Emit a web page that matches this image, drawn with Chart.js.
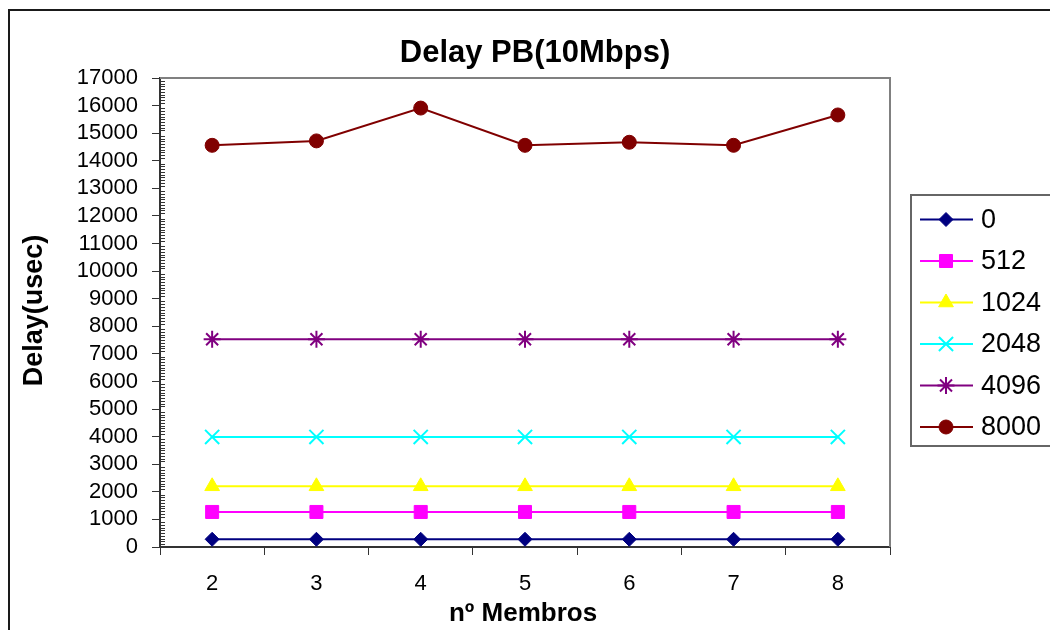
<!DOCTYPE html>
<html>
<head>
<meta charset="utf-8">
<title>Delay PB(10Mbps)</title>
<script src="https://cdn.jsdelivr.net/npm/chart.js@4/dist/chart.umd.min.js"></script>
<style>
  html, body { margin: 0; padding: 0; background: #fff; }
  #wrap { width: 1050px; height: 630px; }
</style>
</head>
<body>
<div id="wrap"><canvas id="c" width="1050" height="630"></canvas></div>
<script>
// Group sizes on the x axis
const members = ['2', '3', '4', '5', '6', '7', '8'];

// Packet sizes (bytes), one line each
const seriesNames = ['0', '512', '1024', '2048', '4096', '8000'];

// Measured delay in microseconds
const delay0    = [280, 280, 280, 280, 280, 280, 280];
const delay512  = [1270, 1270, 1270, 1270, 1270, 1270, 1270];
const delay1024 = [2200, 2200, 2200, 2200, 2200, 2200, 2200];
const delay2048 = [3990, 3990, 3990, 3990, 3990, 3990, 3990];
const delay4096 = [7530, 7530, 7530, 7530, 7530, 7530, 7530];
const delay8000 = [14560, 14720, 15910, 14560, 14670, 14560, 15660];

const yMin = 0, yMax = 17000, yStep = 1000, yMinorStep = 100;

const chartTitle = 'Delay PB(10Mbps)';
const xTitle = 'nº Membros';
const yTitle = 'Delay(usec)';

const FONT = '"Liberation Sans", Arial, Helvetica, sans-serif';

const styles = [
  { color: '#000080', pointStyle: 'rectRot',  radius: 7 },
  { color: '#FF00FF', pointStyle: 'rect',     radius: 9.2 },
  { color: '#FFFF00', pointStyle: 'triangle', radius: 8.5 },
  { color: '#00FFFF', pointStyle: 'crossRot', radius: 10 },
  { color: '#800080', pointStyle: 'star',     radius: 8.5 },
  { color: '#800000', pointStyle: 'circle',   radius: 7 }
];
const values = [delay0, delay512, delay1024, delay2048, delay4096, delay8000];

const datasets = seriesNames.map((name, i) => ({
  label: name,
  data: values[i],
  borderColor: styles[i].color,
  backgroundColor: styles[i].color,
  pointBackgroundColor: styles[i].color,
  pointBorderColor: styles[i].color,
  pointStyle: styles[i].pointStyle,
  pointRadius: styles[i].radius,
  pointHoverRadius: styles[i].radius,
  pointBorderWidth: (styles[i].pointStyle === 'crossRot' || styles[i].pointStyle === 'star') ? 2 : 1,
  borderWidth: 2,
  tension: 0,
  fill: false
}));

// Frame, plot border, minor ticks, titles and the boxed legend
const decorations = {
  id: 'decorations',
  beforeDatasetsDraw(chart) {
    const { ctx, chartArea: a } = chart;
    const y = chart.scales.y;
    ctx.save();
    // plot area outline (top and right edges)
    ctx.strokeStyle = '#808080';
    ctx.lineWidth = 2;
    ctx.beginPath();
    ctx.moveTo(a.left, a.top);
    ctx.lineTo(a.right, a.top);
    ctx.lineTo(a.right, a.bottom);
    ctx.stroke();
    // minor ticks on the value axis, pointing into the plot
    ctx.strokeStyle = '#333';
    ctx.lineWidth = 1;
    ctx.beginPath();
    for (let v = yMin; v <= yMax; v += yMinorStep) {
      if (v % yStep === 0) continue;
      const py = Math.round(y.getPixelForValue(v)) + 0.5;
      ctx.moveTo(a.left, py);
      ctx.lineTo(a.left + 5, py);
    }
    ctx.stroke();
    ctx.restore();
  },
  afterDraw(chart) {
    const { ctx, chartArea: a } = chart;
    ctx.save();
    // outer chart frame
    ctx.strokeStyle = '#1a1a1a';
    ctx.lineWidth = 2;
    ctx.strokeRect(9, 10, 1200, 800);

    // chart title
    ctx.fillStyle = '#000';
    ctx.font = 'bold 31px ' + FONT;
    ctx.textAlign = 'center';
    ctx.textBaseline = 'alphabetic';
    ctx.fillText(chartTitle, 535, 62);

    // x axis title
    ctx.font = 'bold 26px ' + FONT;
    ctx.fillText(xTitle, (a.left + a.right) / 2 - 2, 621);

    // y axis title
    ctx.font = 'bold 27px ' + FONT;
    ctx.save();
    ctx.translate(42, (a.top + a.bottom) / 2 - 2);
    ctx.rotate(-Math.PI / 2);
    ctx.fillText(yTitle, 0, 0);
    ctx.restore();

    // legend box
    const lx = 911, ly = 195, lh = 251;
    ctx.strokeStyle = '#666';
    ctx.lineWidth = 2;
    ctx.strokeRect(lx, ly, 300, lh);
    ctx.font = '27px ' + FONT;
    ctx.textAlign = 'left';
    ctx.textBaseline = 'middle';
    chart.data.datasets.forEach((ds, i) => {
      const cy = 219.5 + i * 41.5;
      ctx.strokeStyle = ds.borderColor;
      ctx.lineWidth = 2;
      ctx.beginPath();
      ctx.moveTo(920, cy);
      ctx.lineTo(973, cy);
      ctx.stroke();
      ctx.fillStyle = ds.pointBackgroundColor;
      ctx.strokeStyle = ds.pointBorderColor;
      ctx.lineWidth = ds.pointBorderWidth;
      Chart.helpers.drawPoint(ctx, {
        pointStyle: ds.pointStyle,
        radius: ds.pointRadius,
        rotation: 0,
        borderWidth: ds.pointBorderWidth
      }, 946, cy);
      ctx.fillStyle = '#000';
      ctx.fillText(ds.label, 981, cy + 1);
    });
    ctx.restore();
  }
};

new Chart(document.getElementById('c'), {
  type: 'line',
  data: { labels: members, datasets },
  plugins: [decorations],
  options: {
    responsive: false,
    animation: false,
    layout: { padding: { left: 0, top: 78, right: 160, bottom: 0 } },
    plugins: {
      legend: { display: false },
      title: { display: false },
      tooltip: { enabled: false }
    },
    scales: {
      x: {
        type: 'category',
        offset: true,
        grid: {
          offset: true,
          drawOnChartArea: false,
          drawTicks: true,
          tickLength: 8,
          color: '#333',
          lineWidth: 1
        },
        border: { color: '#333', width: 2 },
        ticks: {
          color: '#000',
          font: { family: FONT, size: 22 },
          padding: 16,
          maxRotation: 0
        },
        afterFit(scale) { scale.height = 83; }
      },
      y: {
        min: yMin,
        max: yMax,
        grid: {
          drawOnChartArea: false,
          drawTicks: true,
          tickLength: 8,
          color: '#333',
          lineWidth: 1
        },
        border: { color: '#333', width: 2 },
        ticks: {
          stepSize: yStep,
          color: '#000',
          font: { family: FONT, size: 22 },
          padding: 14,
          autoSkip: false,
          callback: (v) => String(v)
        },
        afterFit(scale) { scale.width = 160; }
      }
    }
  }
});
</script>
</body>
</html>
